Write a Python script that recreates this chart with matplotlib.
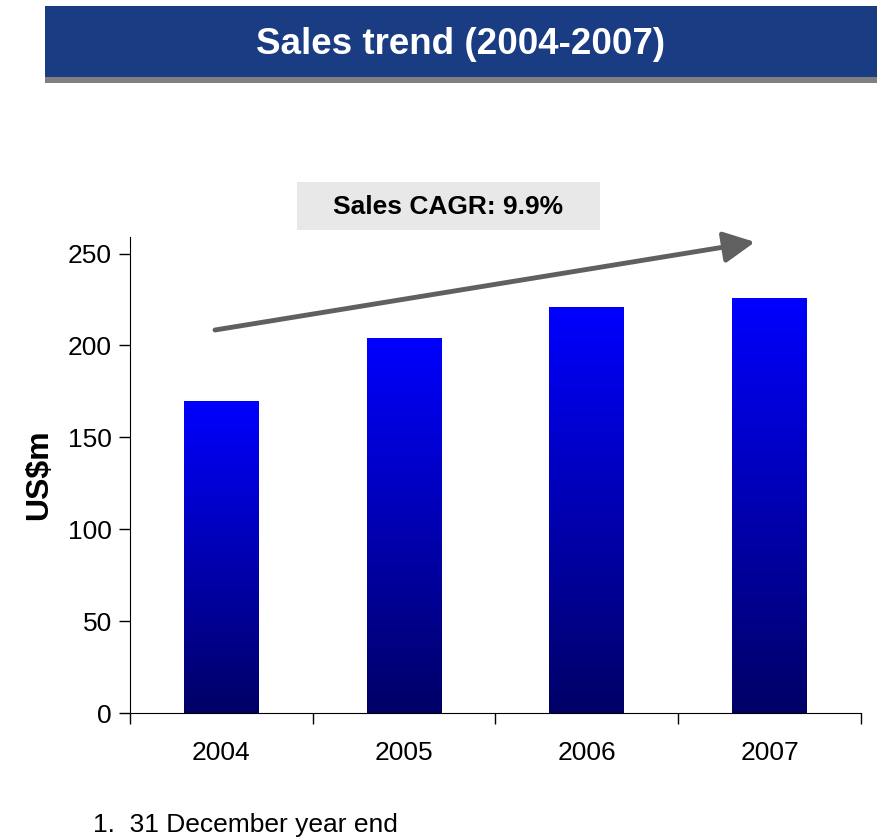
import numpy as np
import matplotlib
matplotlib.use('Agg')
import matplotlib.pyplot as plt
from matplotlib.colors import LinearSegmentedColormap
from matplotlib.patches import Rectangle, FancyArrowPatch

plt.rcParams['font.family'] = ['Liberation Sans', 'DejaVu Sans']

# Données
years = ['2004', '2005', '2006', '2007']
sales = [170, 204, 221, 226]
y_ticks = [0, 50, 100, 150, 200, 250]
title = 'Sales trend (2004-2007)'
cagr_text = 'Sales CAGR: 9.9%'
footnote = '1.  31 December year end'

W, H = 878, 838
fig = plt.figure(figsize=(W / 100, H / 100), dpi=100)

# Bandeau du titre
fig.add_artist(Rectangle((45 / W, 1 - 83 / H), (W - 45) / W, 6 / H,
                         transform=fig.transFigure, color='#808080', lw=0))
fig.add_artist(Rectangle((45 / W, 1 - 77 / H), (W - 45) / W, 71 / H,
                         transform=fig.transFigure, color='#1A3C82', lw=0))
fig.text(461 / W, 1 - 44 / H, title, color='white', fontsize=26.5,
         fontweight='bold', ha='center', va='center')

# Axes
ax = fig.add_axes([130 / W, (H - 713) / H, (861 - 130) / W, (713 - 237) / H])
x = np.arange(len(years))
bars = ax.bar(x, sales, width=0.41, color='none', zorder=2)

# Dégradé bleu dans chaque barre
cmap = LinearSegmentedColormap.from_list('grad', ['#000066', '#0000FF'])
grad = np.linspace(0, 1, 256).reshape(-1, 1)
for b in bars:
    x0, y0 = b.get_x(), b.get_y()
    im = ax.imshow(grad, cmap=cmap, origin='lower', aspect='auto',
                   extent=[x0, x0 + b.get_width(), y0, y0 + b.get_height()],
                   zorder=2)
    im.set_clip_path(b)

ax.set_xlim(-0.5, len(years) - 0.5)
ax.set_ylim(0, 259)
ax.set_yticks(y_ticks)
ax.set_xticks(np.arange(len(years) + 1) - 0.5)
ax.set_xticklabels([])
ax.set_xticks(x, minor=True)
ax.set_xticklabels(years, minor=True)
ax.tick_params(axis='x', which='major', length=8, width=1, direction='out')
ax.tick_params(axis='x', which='minor', length=0, pad=20, labelsize=19)
ax.tick_params(axis='y', length=8, width=1, direction='out', labelsize=19, pad=5)
ax.spines['top'].set_visible(False)
ax.spines['right'].set_visible(False)
ax.set_ylabel('US$m', fontsize=23, fontweight='bold', labelpad=10)

# Flèche de tendance
arrow = FancyArrowPatch((215 / W, 1 - 330 / H), (755 / W, 1 - 242 / H),
                        transform=fig.transFigure, arrowstyle='-|>,head_length=10,head_width=5',
                        mutation_scale=1.9, color='#606060', lw=3.5, shrinkA=0, shrinkB=0)
fig.add_artist(arrow)

# Boîte CAGR
fig.add_artist(Rectangle((297 / W, 1 - 230 / H), 303 / W, 48 / H,
                         transform=fig.transFigure, color='#E8E8E8', lw=0))
fig.text(448 / W, 1 - 207 / H, cagr_text, fontsize=19, fontweight='bold',
         ha='center', va='center')

fig.text(93 / W, 1 - 825 / H, footnote, fontsize=19, ha='left', va='center')

plt.savefig('out.png', dpi=100)
